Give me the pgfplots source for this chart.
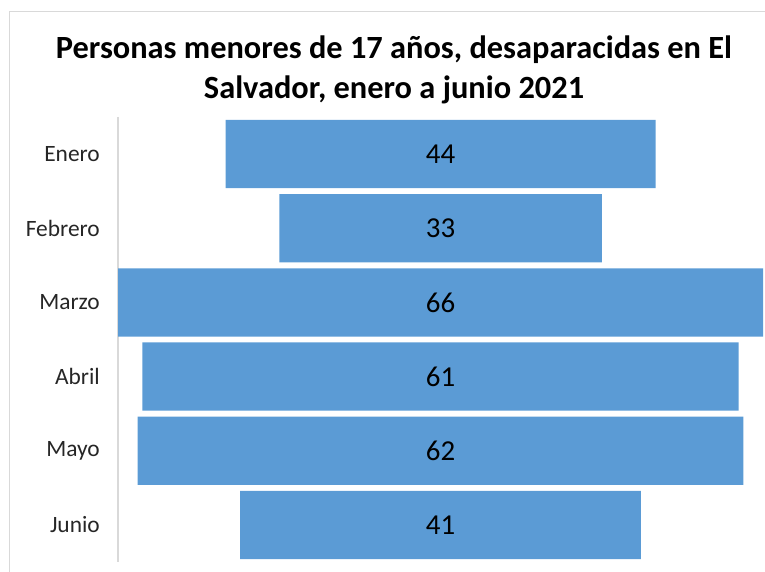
\documentclass[border=0pt]{standalone}
\usepackage{pgfplots}
\pgfplotsset{compat=1.18}
\usepackage{fontspec}
\setmainfont{Carlito}
\definecolor{barblue}{HTML}{5B9BD5}
\definecolor{bordergray}{HTML}{D9D9D9}
\definecolor{txt}{HTML}{000000}
\begin{document}
\begin{tikzpicture}[x=1bp,y=1bp]
\useasboundingbox (0,0) rectangle (765,572);
\draw[bordergray, line width=1bp] (9.5,0) -- (9.5,560.5) -- (765,560.5);
\node[font=\bfseries\fontsize{32.5}{40}\selectfont, align=center, text=txt] at (394,502) {Personas menores de 17 años, desaparacidas en El\\Salvador, enero a junio 2021};
\pgfplotsset{myaxis/.style={
  at={(118bp,10bp)}, anchor=south west,
  width=645bp, height=445bp, scale only axis,
  xmin=0, xmax=66, ymin=-0.5, ymax=5.5, y dir=reverse,
}}
\begin{axis}[myaxis,
  xbar stacked, bar width=0.92,
  hide x axis,
  axis y line*=left,
  y axis line style={draw=bordergray, line width=1.2bp},
  ytick={0,1,2,3,4,5},
  yticklabels={Enero,Febrero,Marzo,Abril,Mayo,Junio},
  major tick length=0pt,
  yticklabel style={font=\fontsize{23.5}{28}\selectfont, text=black!85, inner sep=0pt, xshift=-18bp},
]
\addplot[draw=none, fill=none] coordinates {(11,0) (16.5,1) (0,2) (2.5,3) (2,4) (12.5,5)};
\addplot[draw=none, fill=barblue] coordinates {(44,0) (33,1) (66,2) (61,3) (62,4) (41,5)};
\end{axis}
\begin{axis}[myaxis, hide axis]
\addplot[draw=none, mark=none, nodes near coords, point meta=explicit symbolic,
  every node near coord/.style={anchor=center, font=\fontsize{29}{34}\selectfont, text=black}]
  coordinates {(33,0) [44] (33,1) [33] (33,2) [66] (33,3) [61] (33,4) [62] (33,5) [41]};
\end{axis}
\end{tikzpicture}
\end{document}
